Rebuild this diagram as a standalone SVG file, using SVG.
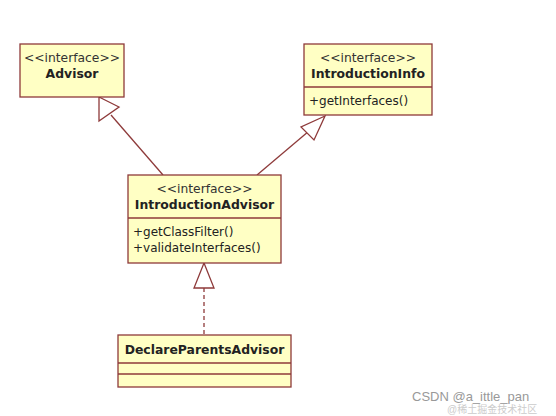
<svg xmlns="http://www.w3.org/2000/svg" width="556" height="416" viewBox="0 0 556 416">
<style>
.box{fill:#FFFFC4;stroke:#8E3A3A;stroke-width:1.3}
.ln{stroke:#8E3A3A;stroke-width:1.3;fill:none}
.tri{fill:#FFFFFF;stroke:#8E3A3A;stroke-width:1.3}
.st{font-family:"DejaVu Sans",sans-serif;font-size:12.3px;fill:#333;text-anchor:middle}
.nm{font-family:"DejaVu Sans",sans-serif;font-size:12.4px;font-weight:bold;fill:#222;text-anchor:middle}
.op{font-family:"DejaVu Sans",sans-serif;font-size:12px;fill:#222}
</style>
<rect width="556" height="416" fill="#FFFFFF"/>
<g id="connectors">
<line class="ln" x1="163" y1="175" x2="111" y2="115"/>
<polygon class="tri" points="99,97 99,121 119,107"/>
<line class="ln" x1="257" y1="175" x2="309" y2="131"/>
<polygon class="tri" points="325,116 301,127 314,140"/>
<line class="ln" x1="204" y1="288" x2="204" y2="335" stroke-dasharray="4,3"/>
<polygon class="tri" points="204,263 194,288 214,288"/>
</g>
<g id="Advisor">
<rect class="box" x="20" y="44" width="104" height="53"/>
<text class="st" x="72" y="62">&lt;&lt;interface&gt;&gt;</text>
<text class="nm" x="72" y="78">Advisor</text>
</g>
<g id="IntroductionInfo">
<rect class="box" x="304" y="44" width="128" height="71"/>
<line class="ln" x1="304" y1="87" x2="432" y2="87"/>
<text class="st" x="368" y="62">&lt;&lt;interface&gt;&gt;</text>
<text class="nm" x="368" y="78">IntroductionInfo</text>
<text class="op" x="309" y="105">+getInterfaces()</text>
</g>
<g id="IntroductionAdvisor">
<rect class="box" x="128" y="175" width="153" height="88"/>
<line class="ln" x1="128" y1="218" x2="281" y2="218"/>
<text class="st" x="204.5" y="193">&lt;&lt;interface&gt;&gt;</text>
<text class="nm" x="204.5" y="209">IntroductionAdvisor</text>
<text class="op" x="133" y="236">+getClassFilter()</text>
<text class="op" x="133" y="252">+validateInterfaces()</text>
</g>
<g id="DeclareParentsAdvisor">
<rect class="box" x="118" y="335" width="173" height="52"/>
<line class="ln" x1="118" y1="363" x2="291" y2="363"/>
<line class="ln" x1="118" y1="374" x2="291" y2="374"/>
<text class="nm" x="204.5" y="354">DeclareParentsAdvisor</text>
</g>
<text x="412" y="401" font-family="'Liberation Sans',sans-serif" font-size="13" fill="#999">CSDN @a_ittle_pan</text>
<text x="447" y="413" font-family="'Liberation Sans','Noto Sans CJK SC',sans-serif" font-size="10" fill="#ccc">@稀土掘金技术社区</text>
</svg>
